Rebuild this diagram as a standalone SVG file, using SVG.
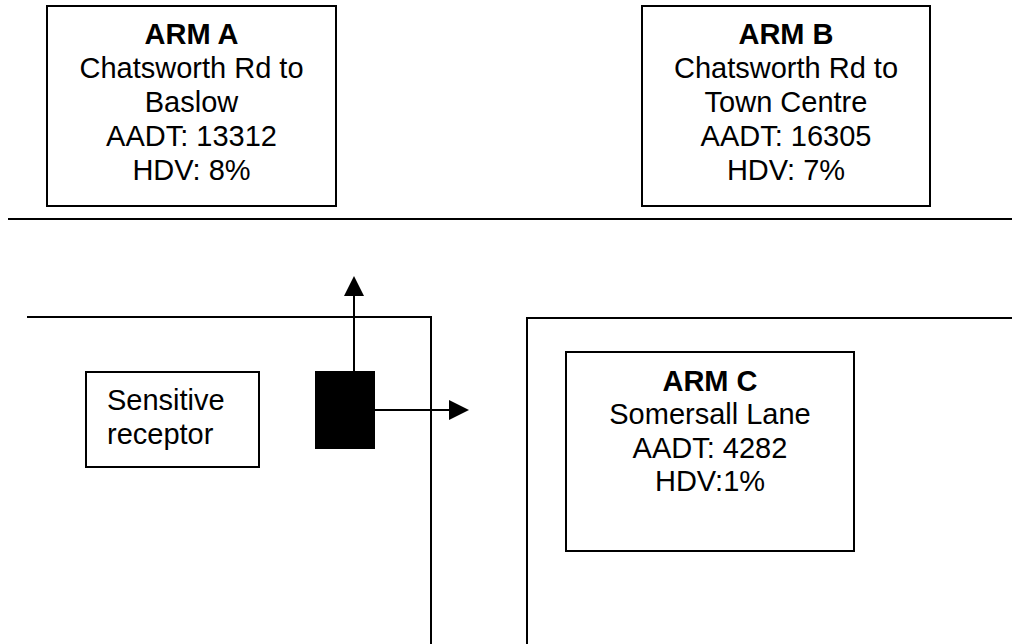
<svg xmlns="http://www.w3.org/2000/svg" width="1012" height="644" viewBox="0 0 1012 644">
<style>
.box{fill:#fff;stroke:#000;stroke-width:2}
.ln{fill:none;stroke:#000;stroke-width:2}
text{font-family:"Liberation Sans",Arial,sans-serif;font-size:29px;fill:#000}
.c{text-anchor:middle}
.b{font-weight:bold}
</style>
<defs>
<marker id="ah" viewBox="0 0 20 20" refX="0" refY="10" markerWidth="20" markerHeight="20" markerUnits="userSpaceOnUse" orient="auto">
<path d="M0,0 L20,10 L0,20 Z" fill="#000"/>
</marker>
</defs>
<rect width="1012" height="644" fill="#fff"/>
<g id="roads">
<line class="ln" x1="8" y1="219" x2="1012" y2="219"/>
<polyline class="ln" points="27,317 431,317 431,644"/>
<polyline class="ln" points="1012,318 527,318 527,644"/>
</g>
<g id="armA">
<rect class="box" x="47" y="6" width="289" height="200"/>
<text class="c b" x="191.5" y="44">ARM A</text>
<text class="c" x="191.5" y="78">Chatsworth Rd to</text>
<text class="c" x="191.5" y="112">Baslow</text>
<text class="c" x="191.5" y="146">AADT: 13312</text>
<text class="c" x="191.5" y="180">HDV: 8%</text>
</g>
<g id="armB">
<rect class="box" x="642" y="6" width="288" height="200"/>
<text class="c b" x="786" y="44">ARM B</text>
<text class="c" x="786" y="78">Chatsworth Rd to</text>
<text class="c" x="786" y="112">Town Centre</text>
<text class="c" x="786" y="146">AADT: 16305</text>
<text class="c" x="786" y="180">HDV: 7%</text>
</g>
<g id="armC">
<rect class="box" x="566" y="352" width="288" height="199"/>
<text class="c b" x="710" y="391">ARM C</text>
<text class="c" x="710" y="424">Somersall Lane</text>
<text class="c" x="710" y="458">AADT: 4282</text>
<text class="c" x="710" y="491">HDV:1%</text>
</g>
<g id="receptor">
<rect class="box" x="86" y="372" width="173" height="95"/>
<text x="107" y="410">Sensitive</text>
<text x="107" y="444">receptor</text>
</g>
<g id="source">
<rect x="315" y="371" width="60" height="78" fill="#000"/>
</g>
<g id="connectors">
<line class="ln" x1="354" y1="371" x2="354" y2="296" marker-end="url(#ah)"/>
<line class="ln" x1="375" y1="410" x2="449" y2="410" marker-end="url(#ah)"/>
</g>
</svg>
